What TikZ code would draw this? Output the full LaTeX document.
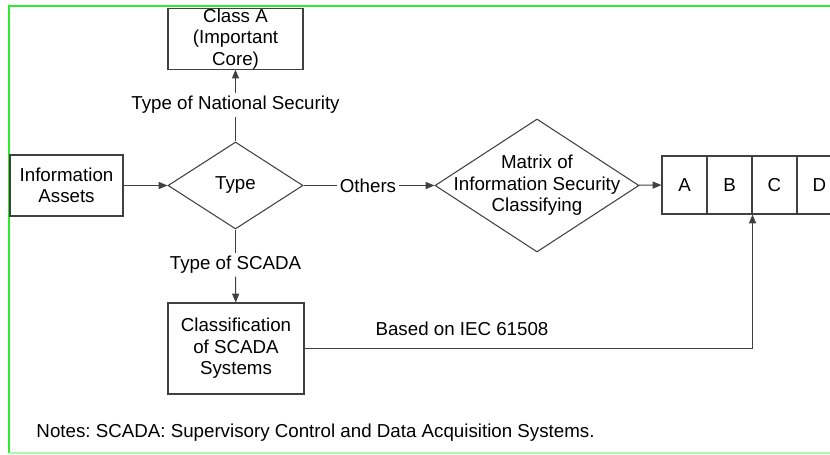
\documentclass[tikz,border=0pt]{standalone}
\usepackage{fontspec}
\setmainfont{Liberation Sans}
\usetikzlibrary{shapes.geometric,arrows.meta}

\definecolor{framegreen}{RGB}{45,235,45}
\definecolor{framelight}{RGB}{170,250,170}
\frenchspacing

\begin{document}
\begin{tikzpicture}[
    font=\fontsize{10.66}{12.2}\selectfont,
    box/.style={draw=black!75, line width=0.6pt, align=center, inner sep=0pt},
    dia/.style={draw=black!75, line width=0.6pt, diamond, inner sep=0pt},
    lab/.style={inner sep=1.5pt},
    line/.style={draw=black!75, line width=0.6pt},
    arr/.style={line, -{Triangle[length=5pt,width=4pt]}}]
      \useasboundingbox (0,0) rectangle (16.6,-9.1);
      \draw[framegreen, line width=1.1pt] (17,-0.12) -- (0.18,-0.12) -- (0.18,-9.06);
      \draw[framelight, line width=1.1pt] (0.18,-9.06) -- (17,-9.06);

      \node[box, minimum width=2.7cm, minimum height=1.2cm] (CA) at (4.71,-0.78) {Class A\\(Important\\Core)};
      \node[box, minimum width=2.26cm, minimum height=1.22cm] (IA) at (1.33,-3.71) {Information\\Assets};
      \node[dia, minimum width=2.7cm, minimum height=1.74cm, label=center:Type] (T) at (4.71,-3.71) {};
      \node[dia, minimum width=4.08cm, minimum height=2.66cm,
            label={[align=center]center:Matrix of\\Information Security\\Classifying}] (M) at (10.74,-3.71) {};
      \node[box, minimum width=2.72cm, minimum height=1.82cm] (CS) at (4.72,-6.97) {Classification\\of SCADA\\Systems};

      \node[box, minimum width=0.9cm, minimum height=1.16cm] (A) at (13.69,-3.7) {A};
      \node[box, minimum width=0.9cm, minimum height=1.16cm] (B) at (14.59,-3.7) {B};
      \node[box, minimum width=0.9cm, minimum height=1.16cm] (C) at (15.49,-3.7) {C};
      \node[box, minimum width=0.9cm, minimum height=1.16cm] (D) at (16.39,-3.7) {D};

      \node[lab] (L1) at (4.71,-2.1)  {Type of National Security};
      \node[lab] (L2) at (4.71,-5.3)  {Type of SCADA};
      \node[lab] (L3) at (7.36,-3.71) {Others};
      \node[lab] (L4) at (9.24,-6.58) {Based on IEC 61508};
      \node[lab, anchor=west] (N) at (0.67,-8.66) {Notes: SCADA: Supervisory Control and Data Acquisition Systems.};

      \draw[arr] (IA) -- (T);
      \draw[line] (T) -- (L1);
      \draw[arr] (L1) -- (CA);
      \draw[line] (T) -- (L2);
      \draw[arr] (L2) -- (CS);
      \draw[line] (T) -- (L3);
      \draw[arr] (L3) -- (M);
      \draw[arr] (M) -- (A);
      \draw[arr] (CS.east) -| (B.south east);
    \end{tikzpicture}
\end{document}
